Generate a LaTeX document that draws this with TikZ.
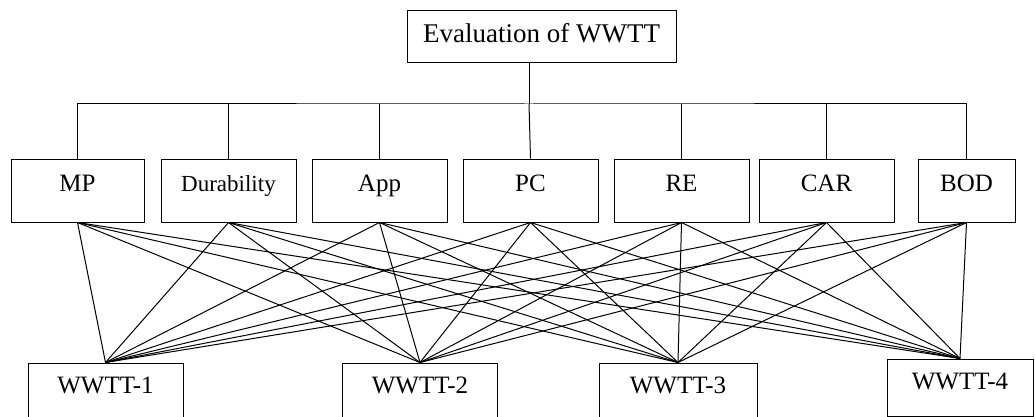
\documentclass[tikz,border=0pt]{standalone}
\usepackage{fontspec}
\setmainfont{Liberation Serif}
\usetikzlibrary{positioning}

\begin{document}
\begin{tikzpicture}[x=1pt, y=-1pt, node distance=151pt, line width=1pt,
    box/.style={draw, rectangle, inner xsep=0pt, inner ysep=0pt,
      font=\fontsize{25}{30}\selectfont},
    crit/.style={box, minimum width=135pt, text height=32pt, text depth=31pt},
    alt/.style={box, minimum width=155pt, text height=30pt, text depth=37pt}]
    \useasboundingbox (0,0) rectangle (1035,417);
    \clip (0,0) rectangle (1035,417);

    \node[box, font=\fontsize{27}{32}\selectfont, minimum width=269pt, text height=32pt, text depth=20pt] (eval) at (541.5,36.5) {Evaluation of WWTT};

    \node[crit, minimum width=133pt] (mp) at (77.5,190.5) {MP};
    \node[crit, font=\fontsize{23}{28}\selectfont] (dur) [right of=mp] {Durability};
    \node[crit] (app) [right of=dur] {App};
    \node[crit] (pc) [right of=app] {PC};
    \node[crit] (re) [right of=pc] {RE};
    \node[crit] (car) [right of=re, xshift=-6pt] {CAR};
    \node[crit, minimum width=97pt] (bod) [right of=car, xshift=-11pt] {BOD};

    \node[alt] (w1) at (105.5,396.5) {WWTT-1};
    \node[alt] (w2) at (420,396.5) {WWTT-2};
    \node[alt, minimum width=158pt] (w3) at (678,396.5) {WWTT-3};
    \node[alt, minimum width=146pt, text depth=27pt] (w4) at (960,387.5) {WWTT-4};

    \coordinate (bus) at (529,104);
    \draw (mp.north) |- (bus) -| (bod.north);
    \path (eval.south -| bus) edge (bus);
    \path (bus) edge (pc.north);
    \path (dur.north) edge (dur.north |- bus);
    \path (app.north) edge (app.north |- bus);
    \path (re.north) edge (re.north |- bus);
    \path (car.north) edge (car.north |- bus);

    \path (mp.south) edge (w1.north) edge (w2.north) edge (w3.north) edge (w4.north);
    \path (dur.south) edge (w1.north) edge (w2.north) edge (w3.north) edge (w4.north);
    \path (app.south) edge (w1.north) edge (w2.north) edge (w3.north) edge (w4.north);
    \path (pc.south) edge (w1.north) edge (w2.north) edge (w3.north) edge (w4.north);
    \path (re.south) edge (w1.north) edge (w2.north) edge (w3.north) edge (w4.north);
    \path (car.south) edge (w1.north) edge (w2.north) edge (w3.north) edge (w4.north);
    \path (bod.south) edge (w1.north) edge (w2.north) edge (w3.north) edge (w4.north);
  \end{tikzpicture}
\end{document}
